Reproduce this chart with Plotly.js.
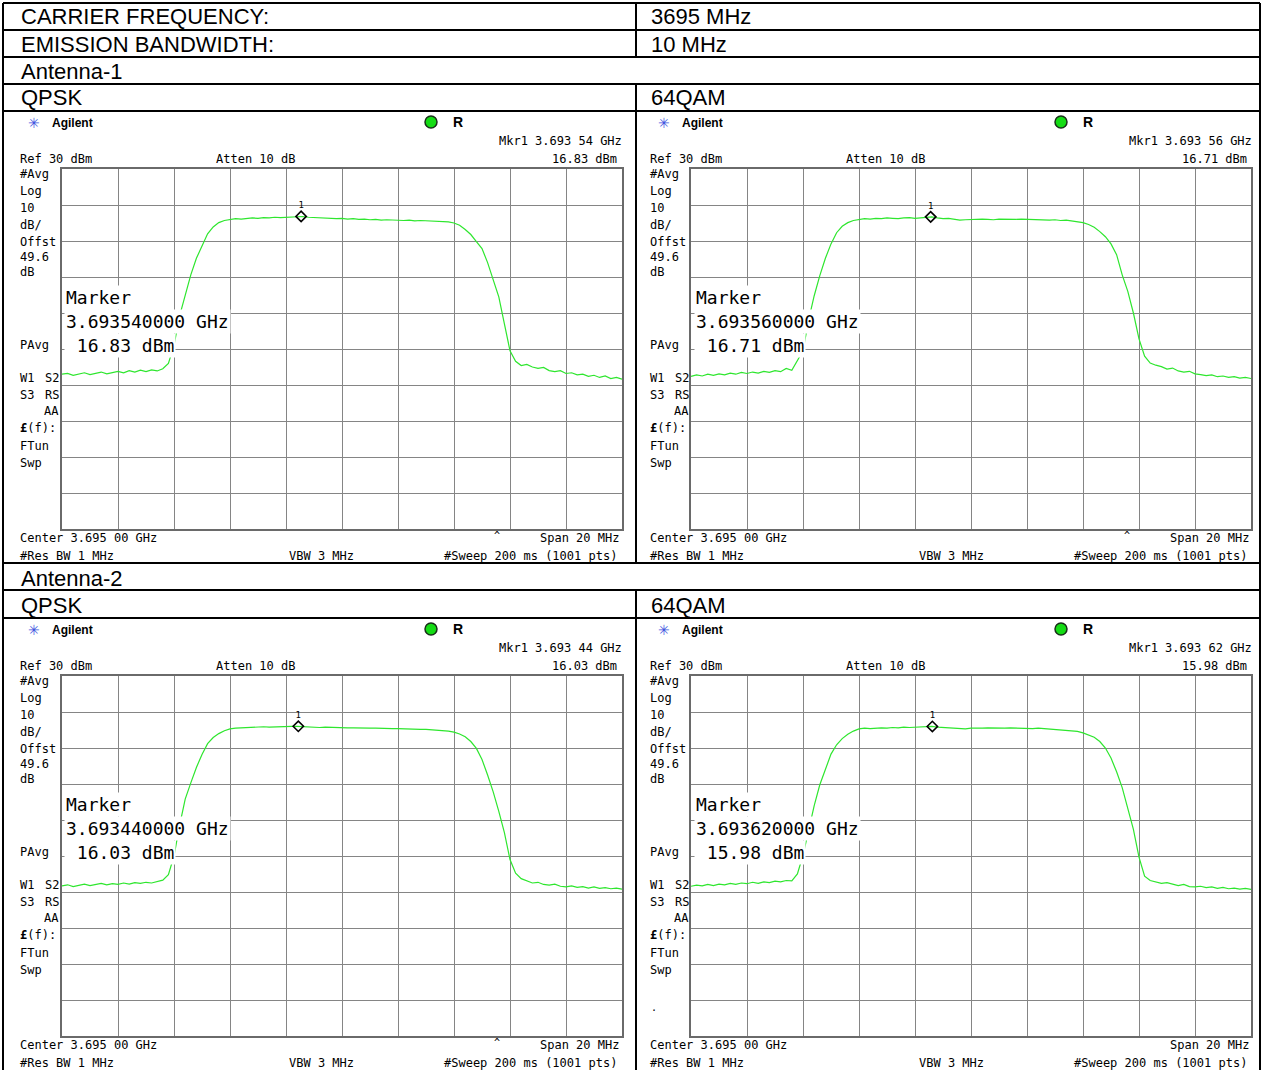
<!DOCTYPE html>
<html>
<head>
<meta charset="utf-8">
<script src="https://cdn.plot.ly/plotly-3.0.1.min.js"></script>
<style>
  html, body { margin: 0; padding: 0; background: #fff; }
  #chart { width: 1263px; height: 1070px; }
</style>
</head>
<body>
<div id="chart"></div>
<script>
// ---- Test setup ----
const carrierFrequency = '3695 MHz';
const emissionBandwidth = '10 MHz';
const antennaLabels = ['Antenna-1', 'Antenna-2'];
const modulationLabels = ['QPSK', '64QAM'];

// ---- Analyzer settings ----
const centerGHz = 3.695;
const spanMHz = 20;
const refLevel = 30;          // dBm, top graticule line
const dbPerDiv = 10;
const sweepStartMHz = 3685;   // first sweep point
const sweepStepMHz = 0.2;     // spacing of the listed sweep points

// ---- Channel power traces (dBm), one value per sweep point ----
const ant1Qpsk = [
  -27.0,-26.8,-27.3,-26.9,-26.6,-27.1,-26.7,-26.4,-26.9,-26.5,
  -26.2,-26.6,-26.0,-26.4,-25.9,-26.3,-25.8,-26.1,-25.5,-24.0,
  -19.0,-10.8,-5.0,0.6,5.2,8.6,12.0,13.9,15.1,15.7,
  16.0,16.2,16.1,16.3,16.4,16.3,16.5,16.4,16.6,16.5,
  16.6,16.5,16.7,16.8,16.6,16.5,16.4,16.3,16.4,16.2,
  16.3,16.1,16.2,16.0,16.1,15.9,16.0,15.8,15.9,15.8,
  15.9,15.7,15.8,15.6,15.7,15.6,15.5,15.6,15.4,15.3,
  15.0,14.4,13.2,11.8,9.8,7.9,4.0,-0.5,-5.5,-13.0,
  -20.5,-23.4,-24.6,-24.3,-25.0,-25.4,-25.1,-26.0,-26.3,-26.0,
  -26.8,-26.6,-27.2,-27.0,-27.6,-27.3,-27.9,-27.5,-28.2,-27.9,
  -28.4
];
const ant1Qam64 = [
  -27.6,-27.2,-27.5,-27.0,-27.3,-26.9,-27.2,-26.7,-27.0,-26.5,
  -26.8,-26.4,-26.7,-26.2,-26.5,-26.0,-26.3,-25.4,-25.9,-23.0,
  -20.5,-12.0,-5.2,0.4,5.2,9.2,12.3,14.1,15.1,15.7,
  16.0,16.2,16.1,16.3,16.2,16.4,16.3,16.2,16.4,16.5,
  16.3,16.4,16.5,16.7,16.4,16.2,16.3,16.0,15.8,15.9,
  16.0,15.9,16.1,16.0,15.9,16.1,16.0,16.1,16.0,16.1,
  16.0,15.9,16.0,15.9,15.8,15.9,15.7,15.8,15.6,15.4,
  15.1,14.6,13.8,12.6,11.2,9.2,6.2,0.6,-4.0,-10.0,
  -17.2,-22.0,-23.9,-24.5,-24.9,-25.6,-25.3,-26.1,-26.4,-26.2,
  -26.9,-27.1,-27.4,-27.2,-27.7,-27.5,-27.9,-27.7,-28.1,-27.9,
  -28.2
];
const ant2Qpsk = [
  -28.3,-28.0,-28.5,-28.1,-27.8,-28.2,-27.9,-27.6,-28.0,-27.7,
  -27.9,-27.5,-27.8,-27.4,-27.6,-27.3,-27.5,-27.1,-26.7,-25.2,
  -20.0,-11.5,-4.2,0.3,4.6,8.2,11.2,12.9,14.0,14.8,
  15.3,15.5,15.6,15.7,15.7,15.8,15.9,15.8,15.9,16.0,
  15.9,16.0,16.0,15.9,15.8,15.8,15.7,15.8,15.7,15.6,
  15.7,15.6,15.6,15.5,15.6,15.5,15.5,15.4,15.5,15.4,
  15.4,15.3,15.4,15.3,15.2,15.2,15.1,15.0,14.9,14.7,
  14.4,13.9,13.1,11.8,9.9,6.8,2.5,-2.2,-7.6,-13.5,
  -21.0,-24.8,-26.3,-26.9,-27.5,-27.3,-27.9,-28.1,-27.8,-28.4,
  -28.6,-28.3,-28.7,-28.5,-28.9,-28.6,-29.0,-28.8,-29.1,-28.9,
  -29.2
];
const ant2Qam64 = [
  -28.4,-28.1,-28.3,-27.9,-28.2,-27.8,-28.0,-27.6,-27.9,-27.5,
  -27.7,-27.3,-27.6,-27.2,-27.4,-27.0,-27.2,-26.8,-26.9,-25.0,
  -19.8,-12.8,-6.0,-0.2,4.0,8.3,10.9,12.6,13.8,14.7,
  15.3,15.5,15.4,15.6,15.6,15.5,15.7,15.6,15.8,15.7,
  15.8,15.9,15.8,16.0,15.8,15.7,15.8,15.6,15.4,15.3,
  15.5,15.4,15.5,15.6,15.5,15.6,15.5,15.6,15.5,15.6,
  15.5,15.4,15.5,15.4,15.3,15.2,15.1,15.0,14.8,14.6,
  14.2,13.7,13.0,11.8,10.0,7.2,3.4,-1.0,-6.5,-12.6,
  -20.3,-25.6,-26.8,-27.1,-27.6,-27.4,-27.9,-28.2,-27.9,-28.5,
  -28.6,-28.4,-28.8,-28.6,-29.0,-28.7,-29.1,-28.9,-29.2,-29.0,
  -29.3
];

// ---- Marker 1 readouts ----
const markerFreqGHz = [3.69354, 3.69356, 3.69344, 3.69362];
const markerLevel = [16.83, 16.71, 16.03, 15.98];

// ---- Page geometry helpers (pixel -> paper) ----
const W = 1263, H = 1070;
const px = x => x / W;
const py = y => 1 - y / H;

const MONO = 'DejaVu Sans Mono';
const SANS = 'Liberation Sans, Arial, sans-serif';
const NB = '\u00a0';

function note(text, x, y, opts) {
  const o = opts || {};
  return {
    xref: 'paper', yref: 'paper', x: px(x), y: py(y),
    text: text, showarrow: false,
    xanchor: o.xanchor || 'left', yanchor: 'middle',
    borderpad: o.borderpad !== undefined ? o.borderpad : 0,
    bgcolor: o.bgcolor || 'rgba(0,0,0,0)',
    font: { family: o.family || MONO, size: o.size || 12, color: o.color || '#000' }
  };
}

const fmtMkr = g => { const s = g.toFixed(5); return s.slice(0, 5) + ' ' + s.slice(5); };

const annotations = [];
const shapes = [];
const traces = [];
const layout = {
  width: W, height: H,
  margin: { l: 0, r: 0, t: 0, b: 0 },
  paper_bgcolor: '#fff', plot_bgcolor: '#fff',
  showlegend: false,
  annotations: annotations,
  shapes: shapes
};

// ---- Report table ----
const TXT = { family: SANS, size: 22 };
annotations.push(note('CARRIER FREQUENCY:', 20, 17, TXT));
annotations.push(note(carrierFrequency, 650, 17, TXT));
annotations.push(note('EMISSION BANDWIDTH:', 20, 44, TXT));
annotations.push(note(emissionBandwidth, 650, 44, TXT));
annotations.push(note(antennaLabels[0], 20, 71, TXT));
annotations.push(note(modulationLabels[0], 20, 98, TXT));
annotations.push(note(modulationLabels[1], 650, 98, TXT));
annotations.push(note(antennaLabels[1], 20, 578, TXT));
annotations.push(note(modulationLabels[0], 20, 605, TXT));
annotations.push(note(modulationLabels[1], 650, 605, TXT));

function rule(x0, y0, x1, y1) {
  shapes.push({ type: 'line', xref: 'paper', yref: 'paper',
    x0: px(x0), y0: py(y0), x1: px(x1), y1: py(y1),
    line: { color: '#000', width: 2 } });
}
[3, 30, 57, 84, 111, 563, 590, 618].forEach(y => rule(3, y, 1260, y));
rule(3, 3, 3, 1070);
rule(1260, 3, 1260, 1070);
rule(636, 3, 636, 57);
rule(636, 84, 636, 563);
rule(636, 590, 636, 1070);

// ---- Spectrum analyzer screens ----
const screens = [
  { level: ant1Qpsk, gx: 62, gy: 169, caret: true },
  { level: ant1Qam64, gx: 691, gy: 169, caret: true },
  { level: ant2Qpsk, gx: 62, gy: 676, caret: true },
  { level: ant2Qam64, gx: 691, gy: 676, caret: false }
];

screens.forEach((s, i) => {
  const n = i + 1;
  const xa = n === 1 ? 'x' : 'x' + n;
  const ya = n === 1 ? 'y' : 'y' + n;
  const dx = s.gx - 62 + (s.gx > 62 ? 1 : 0);
  const dy = s.gy - 169;

  layout[n === 1 ? 'xaxis' : 'xaxis' + n] = {
    domain: [px(s.gx), px(s.gx + 560)],
    range: [centerGHz * 1000 - spanMHz / 2, centerGHz * 1000 + spanMHz / 2],
    anchor: ya, fixedrange: true,
    tick0: centerGHz * 1000 - spanMHz / 2, dtick: spanMHz / 10,
    showticklabels: false, ticks: '', zeroline: false,
    showgrid: true, gridcolor: '#858585', gridwidth: 1,
    showline: true, mirror: true, linecolor: '#6a6a6a', linewidth: 2
  };
  layout[n === 1 ? 'yaxis' : 'yaxis' + n] = {
    domain: [py(s.gy + 360), py(s.gy)],
    range: [refLevel - 10 * dbPerDiv, refLevel],
    anchor: xa, fixedrange: true,
    tick0: refLevel - 10 * dbPerDiv, dtick: dbPerDiv,
    showticklabels: false, ticks: '', zeroline: false,
    showgrid: true, gridcolor: '#858585', gridwidth: 1,
    showline: true, mirror: true, linecolor: '#6a6a6a', linewidth: 2
  };

  traces.push({
    type: 'scatter', mode: 'lines', xaxis: xa, yaxis: ya,
    x0: sweepStartMHz, dx: sweepStepMHz, y: s.level,
    line: { color: '#2ee62e', width: 1.2 }, hoverinfo: 'skip'
  });
  traces.push({
    type: 'scatter', mode: 'markers+text', xaxis: xa, yaxis: ya,
    x: [markerFreqGHz[i] * 1000], y: [markerLevel[i]],
    marker: { symbol: 'diamond-open', size: 8, color: '#000', line: { width: 1.6, color: '#000' } },
    text: ['1'], textposition: 'top center',
    textfont: { family: MONO, size: 9, color: '#000' }, hoverinfo: 'skip', cliponaxis: false
  });

  // title bar
  annotations.push(note('\u2733', 27 + dx, 123 + dy, { family: 'DejaVu Sans', size: 14, color: '#4256e0' }));
  annotations.push(note('<b>Agilent</b>', 51 + dx, 123 + dy, { family: SANS, size: 12 }));
  shapes.push({ type: 'circle', xref: 'paper', yref: 'paper',
    x0: px(425 + dx), x1: px(437 + dx), y0: py(128 + dy), y1: py(116 + dy),
    fillcolor: '#14dc14', line: { color: '#183018', width: 1.5 } });
  annotations.push(note('<b>R</b>', 452 + dx, 122 + dy, { family: SANS, size: 14 }));

  // marker readout and settings
  annotations.push(note('Mkr1 ' + fmtMkr(markerFreqGHz[i]) + ' GHz', 623 + dx, 141 + dy, { xanchor: 'right' }));
  annotations.push(note('Ref ' + refLevel + ' dBm', 19 + dx, 159 + dy));
  annotations.push(note('Atten 10 dB', 215 + dx, 159 + dy));
  annotations.push(note(markerLevel[i].toFixed(2) + ' dBm', 618 + dx, 159 + dy, { xanchor: 'right' }));

  // left-hand annotation column
  const side = [
    ['#Avg', 174], ['Log', 191], [String(dbPerDiv), 208], ['dB/', 225], ['Offst', 242],
    ['49.6', 257], ['dB', 272], ['PAvg', 345], ['W1', 378],
    ['S3', 395], ['<b>\u00a3</b>(f):', 428],
    ['FTun', 446], ['Swp', 463]
  ];
  side.forEach(([t, y]) => annotations.push(note(t, 19 + dx, y + dy)));
  [['S2', 378], ['RS', 395], ['AA', 411]].forEach(([t, y]) =>
    annotations.push(note(t, 60 + dx, y + dy, { xanchor: 'right' })));

  // marker table drawn over the graticule
  const box = { size: 18, bgcolor: '#fff', borderpad: 1 };
  annotations.push(note('Marker', 64 + dx, 297 + dy, box));
  annotations.push(note((markerFreqGHz[i]).toFixed(9) + ' GHz', 64 + dx, 321 + dy, box));
  annotations.push(note(NB + markerLevel[i].toFixed(2) + ' dBm', 64 + dx, 345 + dy, box));

  // footer
  annotations.push(note('Center ' + fmtMkr(centerGHz) + ' GHz', 19 + dx, 538 + dy));
  annotations.push(note('Span ' + spanMHz + ' MHz', 620 + dx, 538 + dy, { xanchor: 'right' }));
  if (s.caret) annotations.push(note('^', 497 + dx, 535 + dy, { size: 10, xanchor: 'center' }));
  annotations.push(note('#Res BW 1 MHz', 19 + dx, 556 + dy));
  annotations.push(note('VBW 3 MHz', 288 + dx, 556 + dy));
  annotations.push(note('#Sweep 200 ms (1001 pts)', 618 + dx, 556 + dy, { xanchor: 'right' }));
});

annotations.push(note('.', 650, 1007, { size: 10 }));

Plotly.newPlot('chart', traces, layout, { staticPlot: true, displayModeBar: false });
</script>
</body>
</html>
